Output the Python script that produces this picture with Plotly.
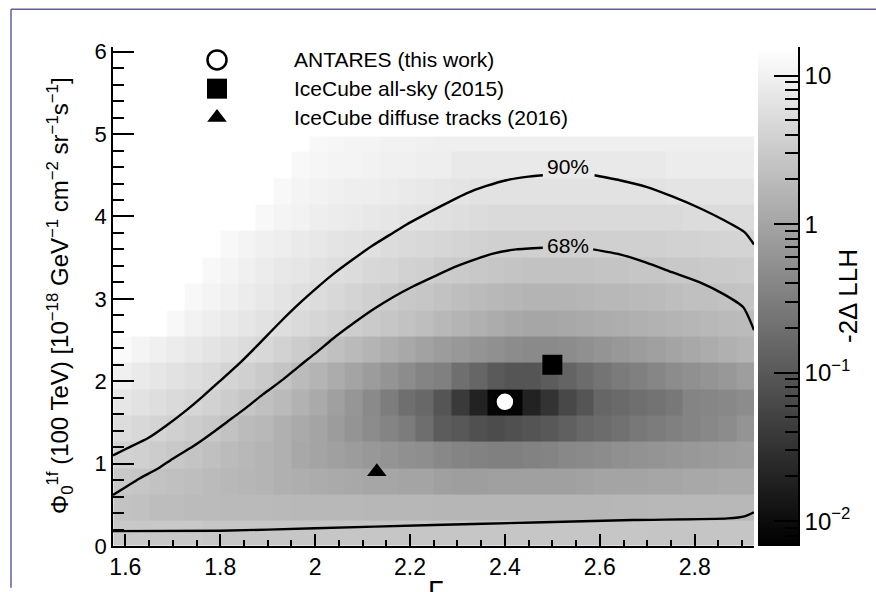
import numpy as np
import plotly.graph_objects as go

# ---------------------------------------------------------------------------
# Likelihood scan: -2 Delta LLH in bins of spectral index (Gamma) and
# one-flavour flux normalisation at 100 TeV (Phi, 1e-18 GeV-1 cm-2 sr-1 s-1)
# ---------------------------------------------------------------------------
gamma_edges = [1.575, 1.6125, 1.65, 1.6875, 1.725, 1.7625, 1.8, 1.8375, 1.875,
               1.9125, 1.95, 1.9875, 2.025, 2.0625, 2.1, 2.1375, 2.175, 2.2125,
               2.25, 2.2875, 2.325, 2.3625, 2.4, 2.4375, 2.475, 2.5125, 2.55,
               2.5875, 2.625, 2.6625, 2.7, 2.7375, 2.775, 2.8125, 2.85, 2.8875,
               2.925]
phi_edges = [0.0, 0.304, 0.624, 0.944, 1.264, 1.584, 1.904, 2.224, 2.544,
             2.864, 3.184, 3.504, 3.824, 4.144, 4.464, 4.784, 4.97]

_ = None  # bin outside the scanned region
llh_rows = [
    [2.9, 2.9, 2.9, 2.9, 2.9, 2.8, 2.8, 2.8, 2.8, 2.8, 2.8, 2.8, 2.8, 2.8, 2.8, 2.8, 2.8, 2.8,
     2.8, 2.8, 2.8, 2.8, 2.8, 2.8, 2.8, 2.8, 2.8, 2.8, 2.8, 2.8, 2.7, 2.7, 2.7, 2.7, 2.7, 2.7],
    [2.5, 2.4, 2.1, 2.1, 2.0, 2.0, 1.9, 1.9, 1.9, 1.85, 1.8, 1.8, 1.8, 1.8, 1.75, 1.75, 1.75, 1.75,
     1.7, 1.7, 1.7, 1.7, 1.7, 1.7, 1.7, 1.7, 1.7, 1.7, 1.75, 1.75, 1.8, 1.8, 1.8, 1.8, 1.8, 1.8],
    [2.9, 2.8, 2.45, 2.3, 2.2, 2.0, 1.8, 1.7, 1.6, 1.4, 1.34, 1.26, 1.18, 1.11, 1.05, 1.05, 0.99, 0.99,
     0.87, 0.82, 0.82, 0.87, 0.87, 0.87, 0.87, 0.87, 0.93, 0.99, 0.99, 0.99, 1.05, 1.05, 1.11, 1.11, 1.18, 1.18],
    [4.0, 3.7, 3.3, 2.9, 2.6, 2.3, 2.0, 1.8, 1.6, 1.4, 1.11, 0.99, 0.87, 0.77, 0.69, 0.61, 0.54, 0.51,
     0.42, 0.37, 0.35, 0.33, 0.33, 0.35, 0.37, 0.42, 0.45, 0.48, 0.54, 0.57, 0.61, 0.64, 0.69, 0.73, 0.77, 0.82],
    [5.4, 4.8, 4.2, 3.7, 3.3, 2.9, 2.45, 2.0, 1.8, 1.4, 1.18, 0.99, 0.77, 0.61, 0.48, 0.37, 0.29, 0.19,
     0.11, 0.098, 0.077, 0.068, 0.077, 0.087, 0.098, 0.125, 0.16, 0.18, 0.21, 0.26, 0.29, 0.33, 0.37, 0.42, 0.48, 0.61],
    [7.3, 6.5, 5.8, 5.1, 4.5, 4.0, 3.3, 2.75, 2.3, 1.9, 1.5, 1.18, 0.87, 0.64, 0.45, 0.30, 0.20, 0.16,
     0.09, 0.04, 0.019, 0.0077, 0.0077, 0.019, 0.032, 0.06, 0.09, 0.15, 0.17, 0.20, 0.22, 0.26, 0.37, 0.40, 0.42, 0.48],
    [9.9, 8.2, 7.3, 6.5, 5.7, 5.1, 4.2, 3.7, 3.1, 2.6, 2.0, 1.6, 1.26, 0.99, 0.77, 0.61, 0.48, 0.37,
     0.33, 0.20, 0.15, 0.104, 0.09, 0.09, 0.11, 0.14, 0.18, 0.23, 0.28, 0.33, 0.40, 0.48, 0.54, 0.61, 0.69, 0.82],
    [13.4, 11.2, 9.9, 8.8, 7.8, 6.9, 6.1, 5.4, 4.8, 4.0, 3.3, 2.8, 2.3, 1.9, 1.6, 1.34, 1.11, 0.93,
     0.77, 0.69, 0.61, 0.54, 0.48, 0.45, 0.45, 0.48, 0.54, 0.61, 0.69, 0.77, 0.87, 0.99, 1.11, 1.26, 1.4, 1.6],
    [_, _, _, 12.6, 10.5, 9.3, 8.2, 7.3, 6.5, 5.7, 5.1, 4.5, 4.0, 3.5, 3.1, 2.8, 2.45, 2.2,
     1.8, 1.6, 1.4, 1.26, 1.11, 1.05, 1.05, 1.11, 1.18, 1.26, 1.34, 1.4, 1.5, 1.6, 1.7, 1.8, 1.9, 2.0],
    [_, _, _, _, 12.6, 11.2, 9.9, 8.8, 7.8, 6.9, 6.1, 5.4, 4.8, 4.2, 3.7, 3.3, 2.9, 2.8,
     2.45, 2.2, 2.0, 1.8, 1.7, 1.6, 1.6, 1.6, 1.7, 1.8, 1.8, 1.9, 2.0, 2.2, 2.3, 2.3, 2.45, 2.6],
    [_, _, _, _, _, 12.6, 11.2, 9.9, 8.8, 7.8, 7.3, 6.5, 5.7, 5.4, 4.8, 4.5, 4.0, 3.7,
     3.3, 3.1, 2.9, 2.8, 2.6, 2.45, 2.45, 2.45, 2.45, 2.6, 2.6, 2.8, 2.8, 2.9, 2.9, 3.1, 3.1, 3.3],
    [_, _, _, _, _, _, 12.6, 11.2, 9.9, 9.3, 8.2, 7.8, 6.9, 6.5, 6.1, 5.4, 5.1, 4.8,
     4.5, 4.2, 4.0, 3.7, 3.7, 3.7, 3.7, 3.7, 3.7, 3.8, 3.8, 3.8, 3.8, 4.0, 4.0, 4.1, 4.2, 4.2],
    [_, _, _, _, _, _, _, _, 12.6, 11.2, 10.5, 9.3, 8.8, 8.2, 7.8, 7.3, 6.9, 6.5,
     6.1, 5.7, 5.4, 5.1, 5.1, 5.1, 5.1, 5.1, 5.1, 5.1, 5.1, 5.1, 5.1, 5.1, 5.4, 5.4, 5.4, 5.4],
    [_, _, _, _, _, _, _, _, _, 12.6, 11.2, 10.5, 9.9, 9.3, 9.3, 8.8, 8.2, 7.8,
     7.3, 6.9, 6.5, 6.5, 6.5, 6.5, 6.5, 6.5, 6.5, 6.5, 6.5, 6.5, 6.5, 6.9, 6.9, 6.9, 6.9, 6.9],
    [_, _, _, _, _, _, _, _, _, _, 12.6, 11.9, 11.2, 11.2, 10.5, 9.9, 9.9, 9.3,
     9.3, 8.0, 8.0, 8.0, 8.0, 8.0, 8.0, 8.0, 8.0, 8.0, 8.0, 8.0, 8.0, 8.8, 8.8, 8.8, 8.8, 8.8],
    [_, _, _, _, _, _, _, _, _, _, _, 12.6, 11.9, 11.2, 11.2, 10.5, 10.5, 9.9,
     9.6, 9.6, 9.6, 9.6, 9.6, 9.6, 9.6, 9.6, 9.6, 9.6, 9.6, 9.6, 9.6, 9.6, 9.6, 9.6, 9.6, 9.6],
]
assert all(len(r) == len(gamma_edges) - 1 for r in llh_rows)
assert len(llh_rows) == len(phi_edges) - 1

# colour axis range of -2 Delta LLH (log scale)
llh_min, llh_max = 0.0068, 15.6

# confidence contours
c90_gamma = [1.574, 1.602, 1.648, 1.686, 1.729, 1.764, 1.799, 1.841, 1.876, 1.925, 1.968, 2.003,
             2.038, 2.080, 2.122, 2.164, 2.192, 2.227, 2.250, 2.284, 2.319, 2.361, 2.403, 2.445,
             2.480, None, 2.589, 2.642, 2.698, 2.754, 2.811, 2.860, 2.905, 2.925]
c90_phi = [1.10, 1.18, 1.31, 1.46, 1.65, 1.82, 2.00, 2.22, 2.42, 2.71, 2.95, 3.13,
           3.30, 3.48, 3.65, 3.80, 3.90, 4.01, 4.08, 4.18, 4.28, 4.37, 4.44, 4.48,
           4.50, None, 4.50, 4.44, 4.36, 4.24, 4.10, 3.96, 3.81, 3.66]
c68_gamma = [1.574, 1.602, 1.630, 1.669, 1.700, 1.743, 1.778, 1.813, 1.855, 1.890, 1.932, 1.968,
             2.003, 2.036, 2.080, 2.122, 2.164, 2.206, 2.250, 2.291, 2.333, 2.375, 2.424, 2.480,
             None, 2.586, 2.642, 2.698, 2.754, 2.811, 2.860, 2.902, 2.925,
             None, 1.574, 1.80, 2.0, 2.25, 2.46, 2.67, 2.87, 2.905, 2.925]
c68_phi = [0.62, 0.72, 0.82, 0.94, 1.06, 1.21, 1.35, 1.50, 1.68, 1.84, 2.02, 2.19,
           2.35, 2.51, 2.70, 2.87, 3.02, 3.15, 3.27, 3.38, 3.47, 3.55, 3.60, 3.62,
           None, 3.60, 3.54, 3.44, 3.32, 3.20, 3.06, 2.90, 2.62,
           None, 0.18, 0.185, 0.215, 0.255, 0.285, 0.315, 0.335, 0.36, 0.41]
contour_labels = ["90%", "68%"]
contour_label_gamma = [2.533, 2.533]
contour_label_phi = [4.61, 3.65]

# best-fit points
fit_names = ["ANTARES (this work)", "IceCube all-sky (2015)", "IceCube diffuse tracks (2016)"]
fit_gamma = [2.40, 2.50, 2.13]
fit_phi = [1.75, 2.20, 0.90]
fit_style = [
    dict(symbol="circle", color="white", size=19, line=dict(color="black", width=2.5)),
    dict(symbol="square", color="black", size=20, line=dict(width=0)),
    dict(symbol="triangle-up", color="black", size=17, line=dict(width=0)),
]

# ---------------------------------------------------------------------------
W, H = 876, 592
PL, PR, PT, PB = 113, 798, 47, 550          # frame of the drawing area (px)
MAIN_R, BAR_L = 754, 758                    # right end of map, left of colour bar
FONT = "Liberation Sans, Arial, Helvetica, sans-serif"

# legend block: first row centre, row pitch, symbol x, text x (px)
LEG_Y0, LEG_DY, LEG_SYM_X, LEG_TXT_X = 60, 29, 217, 292


def paper_x(px):
    return (px - PL) / (PR - PL)


def paper_y(py):
    return (PB - py) / (PB - PT)


lmin, lmax = np.log10(llh_min), np.log10(llh_max)
gray = [[0.0, "#000000"], [1.0, "#ffffff"]]

z_log = [[None if v is None else float(np.log10(v)) for v in row] for row in llh_rows]

fig = go.Figure()

fig.add_trace(go.Heatmap(
    x=gamma_edges, y=phi_edges, z=z_log, colorscale=gray, zmin=lmin, zmax=lmax,
    showscale=False, hoverinfo="skip", xaxis="x", yaxis="y"))

line_style = dict(color="black", width=2.4, shape="spline", smoothing=0.6)
fig.add_trace(go.Scatter(x=c90_gamma, y=c90_phi, mode="lines", line=line_style,
                         connectgaps=False, showlegend=False, hoverinfo="skip"))
fig.add_trace(go.Scatter(x=c68_gamma, y=c68_phi, mode="lines", line=line_style,
                         connectgaps=False, showlegend=False, hoverinfo="skip"))

for name, g, p, st in zip(fit_names, fit_gamma, fit_phi, fit_style):
    fig.add_trace(go.Scatter(x=[g], y=[p], mode="markers", name=name, marker=st,
                             showlegend=False, cliponaxis=False))

# colour bar drawn as its own log axis
bar_edges = np.linspace(lmin, lmax, 257)
bar_centres = 0.5 * (bar_edges[:-1] + bar_edges[1:])
fig.add_trace(go.Heatmap(
    x=[0, 1], y=10 ** bar_edges, z=[[c] for c in bar_centres], colorscale=gray,
    zmin=lmin, zmax=lmax, showscale=False, hoverinfo="skip", xaxis="x2", yaxis="y2"))

# legend block (one row per entry, x in px from the symbol column)
n_leg = len(fit_names)
leg_bottom = LEG_Y0 + (n_leg - 0.5) * LEG_DY
for i, (name, st) in enumerate(zip(fit_names, fit_style)):
    fig.add_trace(go.Scatter(x=[0], y=[i], mode="markers", marker=st, xaxis="x3", yaxis="y3",
                             showlegend=False, hoverinfo="skip", cliponaxis=False))

axis_common = dict(showgrid=False, zeroline=False, showline=True, linecolor="black",
                   linewidth=1.5, ticks="inside", tickcolor="black", tickwidth=1.5)

fig.update_layout(
    width=W, height=H, autosize=False,
    margin=dict(l=PL, r=W - PR, t=PT, b=H - PB, pad=0),
    paper_bgcolor="white", plot_bgcolor="white",
    font=dict(family=FONT, color="black"),
    showlegend=False,
    xaxis=dict(domain=[0, paper_x(MAIN_R)], range=[1.574, 2.925], anchor="y",
               tick0=1.6, dtick=0.2, ticklen=12,
               tickfont=dict(family=FONT, size=23, color="black"),
               minor=dict(tick0=1.6, dtick=0.05, ticks="inside", ticklen=6,
                          tickcolor="black", tickwidth=1.5, showgrid=False),
               **axis_common),
    yaxis=dict(domain=[0, 1], range=[0, 6.057], anchor="x", tick0=0, dtick=1, ticklen=21,
               tickfont=dict(family=FONT, size=22, color="black"),
               minor=dict(tick0=0, dtick=0.2, ticks="inside", ticklen=11,
                          tickcolor="black", tickwidth=1.5, showgrid=False),
               **axis_common),
    xaxis2=dict(domain=[paper_x(BAR_L), 1], range=[0, 1], anchor="y2", visible=False),
    yaxis2=dict(domain=[0, 1], type="log", range=[lmin, lmax], anchor="x2", side="right",
                tickmode="array", tickvals=[0.01, 0.1, 1, 10],
                ticktext=["10<sup>\u22122</sup>", "10<sup>\u22121</sup>", "1", "10"],
                ticklen=24, tickfont=dict(family=FONT, size=24, color="black"),
                minor=dict(tickmode="array",
                           tickvals=[k * 10.0 ** e for e in (-3, -2, -1, 0, 1) for k in range(2, 10)],
                           ticks="inside", ticklen=13, tickcolor="black", tickwidth=1.5,
                           showgrid=False),
                **axis_common),
    xaxis3=dict(domain=[paper_x(LEG_SYM_X), paper_x(LEG_SYM_X + 400)], range=[0, 400],
                anchor="y3", visible=False, fixedrange=True),
    yaxis3=dict(domain=[paper_y(leg_bottom), 1],
                range=[n_leg - 0.5, (PT - LEG_Y0) / LEG_DY], anchor="x3",
                visible=False, fixedrange=True),
)

annotations = []
for i, name in enumerate(fit_names):
    annotations.append(dict(x=LEG_TXT_X - LEG_SYM_X, y=i, xref="x3", yref="y3", text=name,
                            showarrow=False, xanchor="left", yanchor="middle",
                            font=dict(family=FONT, size=21, color="black")))
for lab, g, p in zip(contour_labels, contour_label_gamma, contour_label_phi):
    annotations.append(dict(x=g, y=p, xref="x", yref="y", text=lab, showarrow=False,
                            xanchor="center", yanchor="middle",
                            font=dict(family=FONT, size=21, color="black")))
annotations.append(dict(
    x=paper_x(60), y=paper_y(298), xref="paper", yref="paper", textangle=-90,
    text="\u03a6<sub>0</sub><sup>1f</sup> (100 TeV) [10<sup>\u221218</sup> GeV<sup>\u22121</sup> "
         "cm<sup>\u22122</sup> sr<sup>\u22121</sup>s<sup>\u22121</sup>]",
    showarrow=False, xanchor="center", yanchor="middle",
    font=dict(family=FONT, size=24, color="black")))
annotations.append(dict(
    x=paper_x(848), y=paper_y(298), xref="paper", yref="paper", textangle=-90,
    text="-2\u0394 LLH", showarrow=False, xanchor="center", yanchor="middle",
    font=dict(family=FONT, size=26, color="black")))
annotations.append(dict(
    x=paper_x(435), y=paper_y(577), xref="paper", yref="paper", text="\u0393",
    showarrow=False, xanchor="center", yanchor="top",
    font=dict(family=FONT, size=28, color="black")))
fig.update_layout(annotations=annotations)

# page frame lines (left and top)
border = dict(color="#5e5ea6", width=1.5)
fig.add_shape(type="line", xref="paper", yref="paper", x0=paper_x(11), x1=paper_x(11),
              y0=paper_y(H), y1=paper_y(9), line=border)
fig.add_shape(type="line", xref="paper", yref="paper", x0=paper_x(11), x1=paper_x(W),
              y0=paper_y(9), y1=paper_y(9), line=border)

fig.write_html("out.html", config={"displayModeBar": False})
